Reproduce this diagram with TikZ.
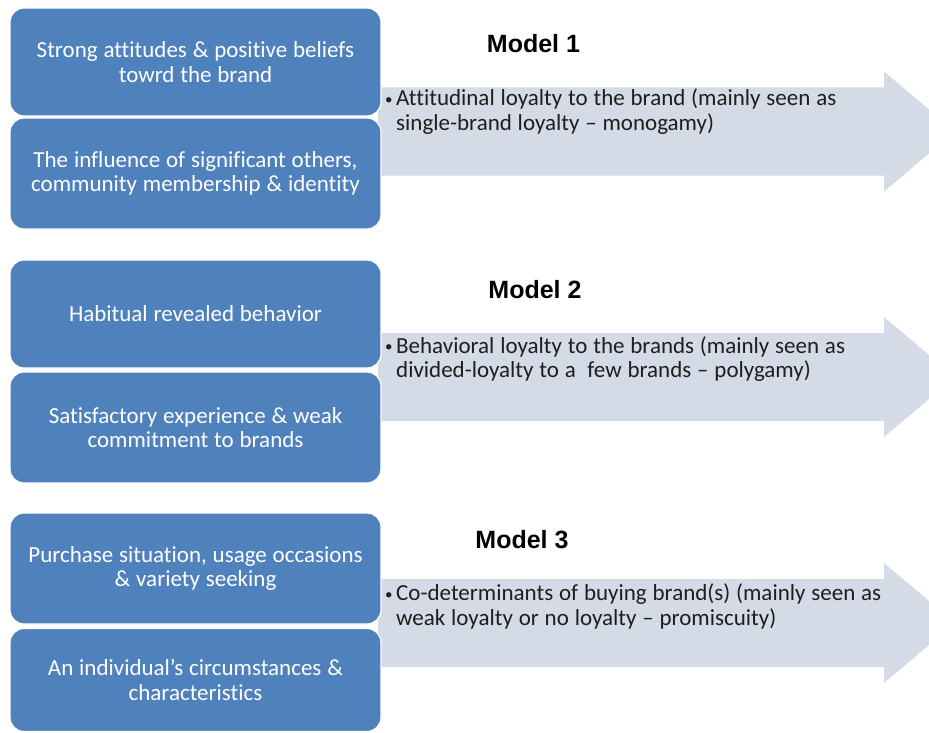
\documentclass[tikz,border=0pt]{standalone}
\usepackage{fontspec}
\setmainfont{Carlito}[Ligatures=NoCommon, WordSpace=1.12]
\newfontfamily\modelfont{Liberation Sans}
\definecolor{boxblue}{HTML}{4F81BD}
\definecolor{arrowfill}{HTML}{D4DBE7}
\definecolor{arrowtext}{HTML}{1E1E1E}
\newcommand\smallbullet{\makebox[12pt][l]{\hspace*{1pt}\raisebox{1.5pt}{\fontsize{15}{15}\selectfont •}}}
\begin{document}
\begin{tikzpicture}[x=1pt,y=-1pt,
  lbox/.style={draw=white, line width=1.2pt, fill=boxblue, rounded corners=14pt,
    minimum width=371pt, inner sep=0pt, text=white, align=center,
    font=\fontsize{23}{24.5}\selectfont},
  bigarrow/.style={fill=arrowfill},
  atext/.style={anchor=base west, inner sep=0pt, text=arrowtext,
    font=\fontsize{23}{24.5}\selectfont},
  mtitle/.style={font=\modelfont\bfseries\fontsize{25}{30}\selectfont, text=black}
]
\useasboundingbox (0,0) rectangle (929,733);
\clip (0,0) rectangle (929,733);

% arrows (behind boxes)
\fill[bigarrow] (378,87.5) -- (884,87.5) -- (884,71.5) -- (955,131.5) -- (884,191.5) -- (884,175.5) -- (378,175.5) -- cycle;
\fill[bigarrow] (378,333) -- (884,333) -- (884,317) -- (955,377) -- (884,437) -- (884,421) -- (378,421) -- cycle;
\fill[bigarrow] (378,579) -- (884,579) -- (884,563) -- (955,623) -- (884,683) -- (884,667) -- (378,667) -- cycle;

% boxes
\node[lbox, minimum height=108pt] (b1a) at (195.5,62) {Strong attitudes \& positive beliefs\\towrd the brand};
\node[lbox, minimum height=111pt] (b1b) at (195.5,173.5) {The influence of significant others,\\community membership \& identity};
\node[lbox, minimum height=108pt] (b2a) at (195.5,314) {Habitual revealed behavior};
\node[lbox, minimum height=111pt] (b2b) at (195.5,427.5) {Satisfactory experience \& weak\\commitment to brands};
\node[lbox, minimum height=111pt] (b3a) at (195.5,568.5) {Purchase situation, usage occasions\\\& variety seeking};
\node[lbox, minimum height=103pt] (b3b) at (195.5,680) {An individual’s circumstances \&\\characteristics};

% arrow texts
\node[atext] (t1) at (384,105.7) {\parbox[t]{540pt}{\smallbullet Attitudinal loyalty to the brand (mainly seen as\\\hspace*{12pt}single-brand loyalty – monogamy)}};
\node[atext] (t2) at (384,353.3) {\parbox[t]{540pt}{\smallbullet Behavioral loyalty to the brands (mainly seen as\\\hspace*{12pt}divided-loyalty to a\ \ few brands – polygamy)}};
\node[atext] (t3) at (384,600.7) {\parbox[t]{540pt}{\smallbullet Co-determinants of buying brand(s) (mainly seen as\\\hspace*{12pt}weak loyalty or no loyalty – promiscuity)}};

% titles
\node[mtitle] (m1) at (533.5,44) {Model 1};
\node[mtitle] (m2) at (535,290) {Model 2};
\node[mtitle] (m3) at (522,540) {Model 3};
\end{tikzpicture}
\end{document}
